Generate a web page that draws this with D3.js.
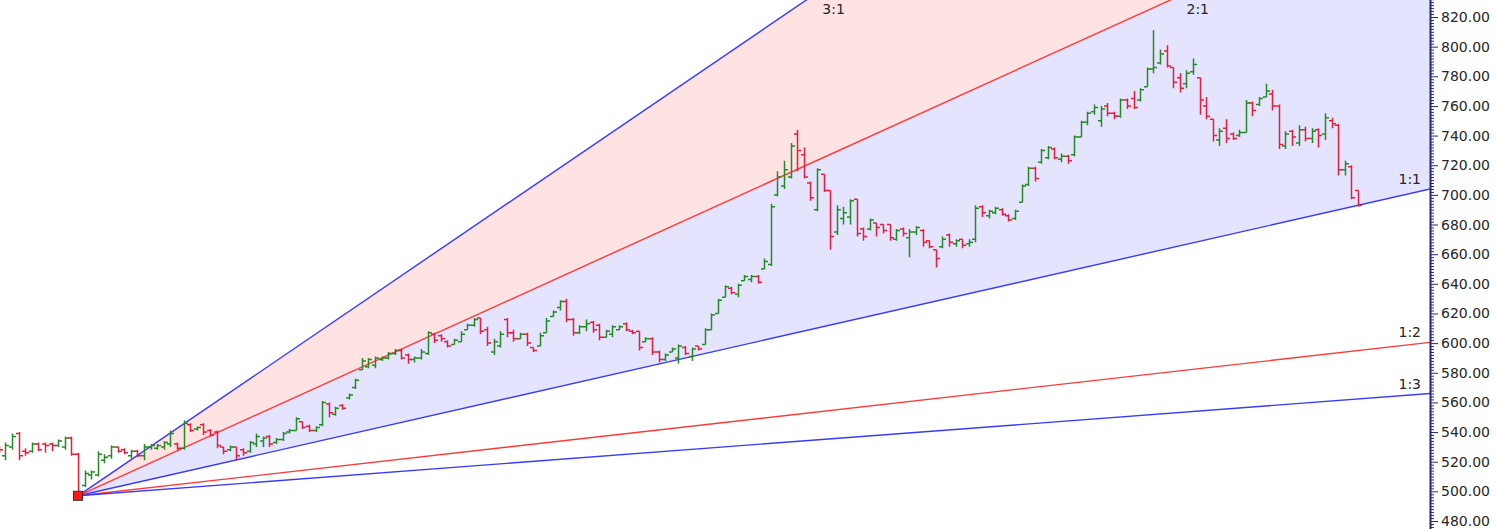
<!DOCTYPE html>
<html>
<head>
<meta charset="utf-8">
<script src="https://cdn.jsdelivr.net/npm/d3@7"></script>
<style>
  body { margin: 0; background: #fff; }
  svg { display: block; }
</style>
</head>
<body>
<svg id="chart" width="1496" height="529"></svg>
<script>
//----- Data -----
var barOpen  = [530,524,530,539,527,527,532,532,532,531,530,536,525,
  504,511,511,521,524,530,528,524,527,524,530,529,530,532,532,529,545,542,545,541,540,530,528,530,528,527,532,534,537,533,535,540,541,547,544,541,545,559,552,558,563,570,
  582,584,585,589,590,593,595,592,589,590,593,606,605,601,599,601,609,612,617,609,594,598,616,607,603,606,597,598,607,618,624,628,616,607,611,614,612,604,606,609,613,608,608,601,603,594,589,594,590,597,591,
  598,599,609,620,631,637,633,642,643,645,650,653,700,706,712,
  741,727,708,690,714,703,675,684,685,697,677,677,681,680,680,670,677,671,675,676,669,663,665,673,667,670,667,670,692,
  686,688,690,686,684,695,707,718,722,725,731,724,726,727,739,749,756,750,760,755,753,764,765,764,773,785,789,797,786,779,775,783,779,760,751,737,745,741,740,742,762,761,766,768,760,733,743,735,744,738,744,741,750,747,717,719,703];
var barHigh  = [531,533,539,540,529,533,533,533,533,535,537,537,526,
  514,514,527,525,531,530,529,528,528,532,532,532,534,541,533,548,546,544,546,542,541,530,531,530,529,534,539,537,538,536,540,542,550,547,545,544,561,560,557,559,566,576,
  590,590,591,591,594,596,596,593,591,596,608,607,606,602,603,608,613,617,617,611,603,608,617,609,607,607,597,607,617,622,629,630,617,612,616,615,613,609,612,612,614,609,608,604,604,595,593,597,599,598,597,
  598,610,620,630,639,638,640,646,646,646,657,694,716,723,735,
  744,732,709,718,714,703,693,692,697,697,678,684,681,680,680,677,678,677,679,677,669,663,672,674,670,670,670,693,693,
  690,692,691,687,690,707,719,719,731,733,732,728,727,740,750,756,761,760,762,756,765,765,770,772,786,811,798,801,786,782,784,792,779,766,751,745,751,742,744,764,763,766,775,771,761,743,744,747,746,745,745,755,752,748,723,720,703];
var barLow   = [526,521,528,521,524,526,527,526,527,530,528,524,497,
  503,508,510,519,522,526,525,522,523,521,528,528,528,530,528,528,540,541,538,537,529,525,527,521,524,526,530,530,530,532,534,539,541,542,540,540,544,550,551,555,562,569,
  582,583,583,588,589,592,589,586,587,589,592,600,601,597,599,601,609,611,606,598,592,597,604,601,603,598,594,598,607,618,622,614,605,606,608,607,602,604,604,609,608,606,595,601,592,587,588,594,586,592,588,
  595,599,609,620,631,633,631,642,641,640,650,652,699,704,711,
  716,711,696,689,702,663,673,680,680,672,669,676,672,674,669,669,672,658,673,665,664,651,664,665,665,664,665,668,685,
  684,687,686,682,683,695,706,709,721,724,724,722,721,726,739,747,754,746,753,751,752,758,758,763,773,782,788,786,772,769,772,781,754,751,736,733,735,737,739,742,753,760,766,757,731,731,733,733,736,735,732,737,745,713,713,697,692];
var barClose = [528,531,537,524,526,532,528,531,531,534,536,525,498,
  512,513,525,523,530,527,526,527,524,530,531,531,533,539,529,546,541,543,540,538,531,527,530,524,526,533,537,536,532,535,539,541,549,543,541,543,560,553,556,556,565,575,
  588,589,590,590,593,595,590,589,590,594,607,602,603,598,602,606,612,616,608,600,601,606,607,603,606,600,595,605,615,621,628,616,607,611,613,609,604,608,611,611,609,607,597,603,594,589,592,596,598,593,596,
  596,609,619,629,638,634,639,645,645,641,655,692,712,717,733,
  730,712,698,717,703,672,690,688,696,674,672,683,678,676,671,676,674,675,678,668,665,657,670,668,669,666,668,691,688,
  689,691,687,683,689,706,718,711,730,732,725,726,723,739,749,755,759,758,755,753,764,760,759,771,785,786,795,787,776,772,782,788,764,753,740,743,738,738,742,762,757,765,770,760,734,741,739,744,738,743,740,752,748,717,721,698,693];

// Gann fan: anchor bar, anchor price, price per bar for the 1:1 line
var fanOriginIndex = 12;
var fanOriginPrice = 497;
var fanUnit = 1.01;
var fanRatios = [3, 2, 1, 1 / 2, 1 / 3];
var fanLabels = ['3:1', '2:1', '1:1', '1:2', '1:3'];

var yTicks = d3.range(480, 821, 20);
var yMinorTicks = d3.range(470, 842, 2).filter(function(v) { return v % 20 !== 0; });

//----- Layout -----
var width = 1496, height = 529;
var axisX = 1430;
var fanLineColors = ['#3a3aff', '#ff3a3a', '#3a3aff', '#ff3a3a', '#3a3aff'];
var upColor = '#248a24', downColor = '#e81c3c';
var labelFont = 'DejaVu Sans, Verdana, sans-serif';

var svg = d3.select('#chart');

var y = d3.scaleLinear().domain([480, 820]).range([521, 17]);
var x = d3.scaleLinear()
          .domain([fanOriginIndex, barOpen.length - 1])
          .range([78, 1358]);

svg.append('clipPath').attr('id', 'plotClip')
   .append('rect').attr('x', 0).attr('y', 0).attr('width', axisX).attr('height', height);

var plot = svg.append('g').attr('clip-path', 'url(#plotClip)');

//----- Fan -----
var endIndex = x.invert(axisX + 40);
function fanPoint(ratio, idx) {
  return [x(idx), y(fanOriginPrice + ratio * fanUnit * (idx - fanOriginIndex))];
}
var origin = [x(fanOriginIndex), y(fanOriginPrice)];
var ends = fanRatios.map(function(r) { return fanPoint(r, endIndex); });

// shaded bands 3:1-2:1 and 2:1-1:1
plot.append('path')
    .attr('d', 'M' + [origin, ends[0], ends[1]].join('L') + 'Z')
    .attr('fill', '#ffe2e2');
plot.append('path')
    .attr('d', 'M' + [origin, ends[1], ends[2]].join('L') + 'Z')
    .attr('fill', '#e4e4fe');

plot.selectAll('line.fan')
    .data(fanRatios)
    .enter().append('line')
    .attr('class', 'fan')
    .attr('x1', origin[0]).attr('y1', origin[1])
    .attr('x2', function(d, i) { return ends[i][0]; })
    .attr('y2', function(d, i) { return ends[i][1]; })
    .attr('stroke', function(d, i) { return fanLineColors[i]; })
    .attr('stroke-width', 1.4);

//----- Bars -----
var bars = d3.range(barOpen.length).map(function(i) {
  return { i: i, o: barOpen[i], h: barHigh[i], l: barLow[i], c: barClose[i] };
});

plot.selectAll('path.bar')
    .data(bars)
    .enter().append('path')
    .attr('class', 'bar')
    .attr('fill', 'none')
    .attr('stroke-width', 1.5)
    .attr('stroke', function(d) { return d.c >= d.o ? upColor : downColor; })
    .attr('d', function(d) {
      var cx = Math.round(x(d.i)) + 0.5;
      var hi = Math.max(d.h, d.o, d.c), lo = Math.min(d.l, d.o, d.c);
      return 'M' + cx + ',' + y(hi) + 'V' + y(lo) +
             'M' + (cx - 3.5) + ',' + y(d.o) + 'H' + cx +
             'M' + cx + ',' + y(d.c) + 'H' + (cx + 3.5);
    });

// anchor marker
svg.append('rect')
   .attr('x', origin[0] - 4.5).attr('y', origin[1] - 4.5)
   .attr('width', 9).attr('height', 9)
   .attr('fill', '#ff1a1a').attr('stroke', '#333').attr('stroke-width', 1);

//----- Fan labels -----
fanRatios.forEach(function(r, i) {
  var yAxis = ends[i][1] + (origin[1] - ends[i][1]) * (ends[i][0] - axisX) / (ends[i][0] - origin[0]);
  var label = svg.append('text')
                 .text(fanLabels[i])
                 .attr('font-family', labelFont)
                 .attr('font-size', 14)
                 .attr('fill', '#262626');
  if (yAxis < 0) {
    var topX = origin[0] + (axisX - origin[0]) * (origin[1] / (origin[1] - yAxis));
    label.attr('x', topX + 16).attr('y', 14);
  } else {
    label.attr('x', axisX - 9).attr('y', yAxis - 5).attr('text-anchor', 'end');
  }
});

//----- Price axis -----
var axisG = svg.append('g').attr('transform', 'translate(' + axisX + ',0)');

axisG.append('g')
     .call(d3.axisRight(y).tickValues(yMinorTicks).tickSize(4).tickFormat(''))
     .call(function(g) { g.select('.domain').remove(); })
     .selectAll('line').attr('stroke', '#26267a');

axisG.append('g')
     .call(d3.axisRight(y).tickValues(yTicks).tickSize(8).tickPadding(3).tickFormat(d3.format('.2f')))
     .call(function(g) { g.select('.domain').remove(); })
     .call(function(g) {
       g.selectAll('line').attr('stroke', '#26267a');
       g.selectAll('text')
        .attr('font-family', labelFont)
        .attr('font-size', 14)
        .attr('fill', '#262626');
     });

axisG.append('line')
     .attr('x1', 0.5).attr('x2', 0.5).attr('y1', 0).attr('y2', height)
     .attr('stroke', '#26267a').attr('stroke-width', 2);
</script>
</body>
</html>
